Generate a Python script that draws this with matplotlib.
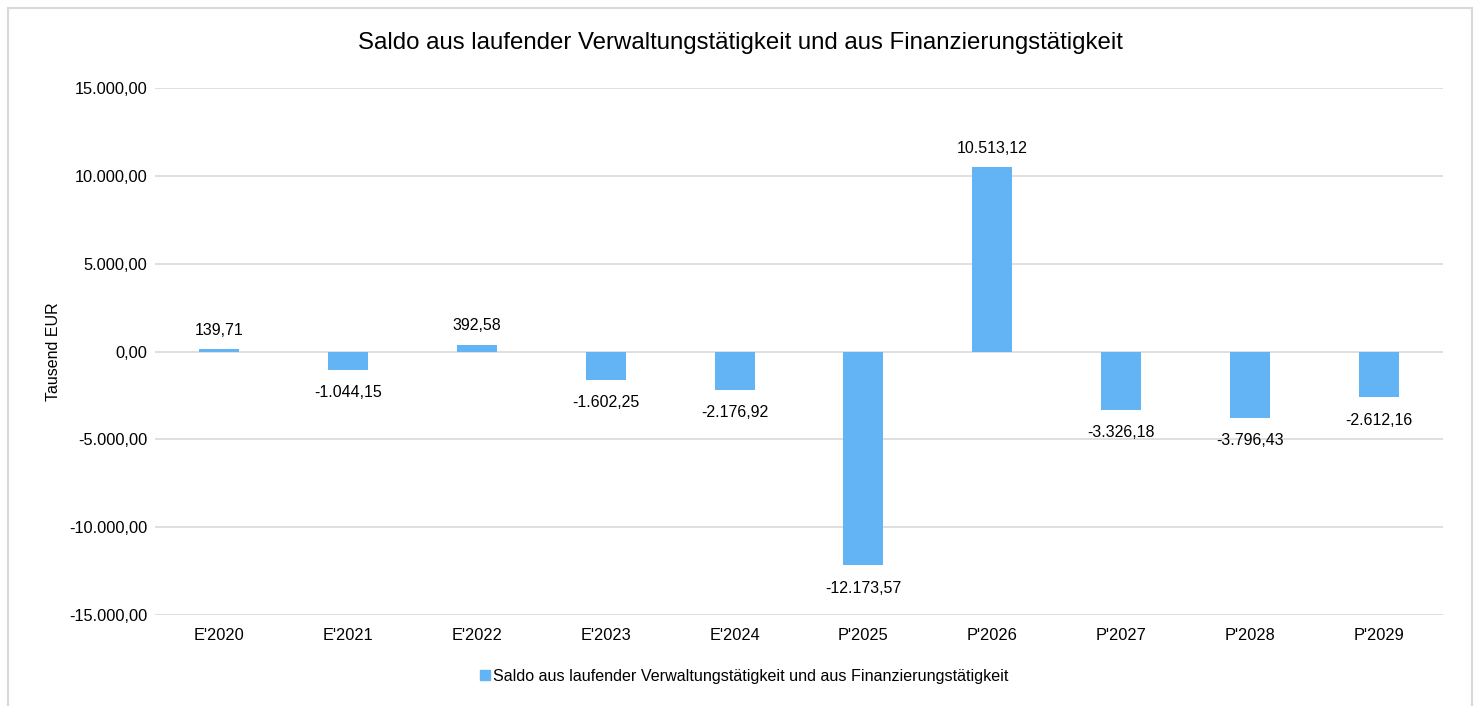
import numpy as np
import matplotlib.pyplot as plt
from matplotlib.patches import Rectangle

plt.rcParams['font.family'] = ['Liberation Sans', 'DejaVu Sans']

jahre = ["E'2020", "E'2021", "E'2022", "E'2023", "E'2024",
         "P'2025", "P'2026", "P'2027", "P'2028", "P'2029"]
saldo = [139.71, -1044.15, 392.58, -1602.25, -2176.92,
         -12173.57, 10513.12, -3326.18, -3796.43, -2612.16]
titel = "Saldo aus laufender Verwaltungstätigkeit und aus Finanzierungstätigkeit"

farbe = "#63B4F5"
grau = "#D9D9D9"


def de_format(v):
    # deutsches Zahlenformat: Tausenderpunkt, Dezimalkomma
    s = "{:,.2f}".format(v)
    return s.replace(",", "X").replace(".", ",").replace("X", ".")


fig = plt.figure(figsize=(14.75, 7.06), dpi=100)
ax = fig.add_axes([155/1475, 1 - 615/706, (1443-155)/1475, (615-88)/706])

x = np.arange(len(jahre))
ax.bar(x, saldo, width=0.31, color=farbe, zorder=3)

for xi, v in zip(x, saldo):
    if v >= 0:
        ax.annotate(de_format(v), (xi, v), xytext=(0, 8), textcoords="offset points",
                    ha="center", va="bottom", fontsize=11.5)
    else:
        ax.annotate(de_format(v), (xi, v), xytext=(0, -11), textcoords="offset points",
                    ha="center", va="top", fontsize=11.5)

ax.set_ylim(-15000, 15000)
ax.set_xlim(-0.5, len(jahre) - 0.5)
ax.set_yticks(np.arange(-15000, 15001, 5000))
ax.set_yticklabels([de_format(t) for t in np.arange(-15000, 15001, 5000)], fontsize=11.8)
ax.set_xticks(x)
ax.set_xticklabels(jahre, fontsize=11.8)
ax.tick_params(axis="y", length=0, pad=5.5)
ax.tick_params(axis="x", length=0, pad=9)
ax.grid(axis="y", color=grau, linewidth=1.2, zorder=0)
for s in ax.spines.values():
    s.set_visible(False)
ax.set_ylabel("Tausend EUR", fontsize=11.5, labelpad=6)

fig.text(740/1475, 1 - 43/706, titel, ha="center", va="center", fontsize=17.3)

fig.legend([Rectangle((0, 0), 1, 1, color=farbe)], [titel], loc="center",
           bbox_to_anchor=(744/1475, 1 - 676/706), frameon=False, fontsize=11.6,
           handlelength=0.6, handleheight=0.6, handletextpad=0.2)

# Rahmen um die Grafik
fig.patches.append(Rectangle((8/1475, -0.05), (1472-8)/1475, 1.05 - 8/706,
                             transform=fig.transFigure, fill=False,
                             edgecolor=grau, linewidth=1.5))

fig.savefig("out.png", dpi=100)
